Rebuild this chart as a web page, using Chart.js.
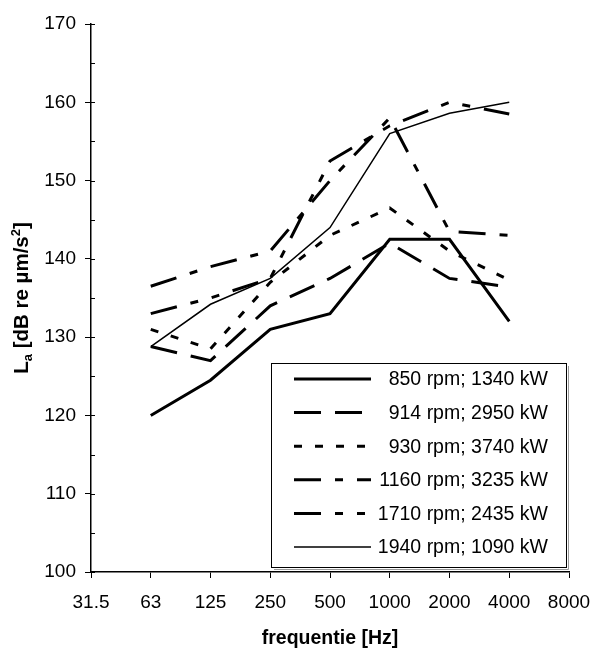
<!DOCTYPE html>
<html>
<head>
<meta charset="utf-8">
<script src="https://cdn.jsdelivr.net/npm/chart.js@4.4.1/dist/chart.umd.min.js"></script>
<style>
    html, body { margin: 0; padding: 0; background: #fff; }
    #wrap { width: 591px; height: 650px; }
</style>
</head>
<body>
<div id="wrap"><canvas id="spectrumChart" width="591" height="650"></canvas></div>
<script>
// octave band centres shown on the x axis
const freqLabels = ['31.5', '63', '125', '250', '500', '1000', '2000', '4000', '8000'];

// measured levels for 63 .. 4000 Hz (dB re um/s2)
const rpm850 = [120, 124.5, 131, 133, 142.5, 142.5, 132];
const rpm914 = [128.8, 127, 134, 137.5, 142, 137.5, 136.4];
const rpm930 = [131, 128.5, 137, 143, 146.5, 141, 137.3];
const rpm1160 = [136.5, 139, 141, 150, 158, 143.5, 143];
const rpm1710 = [133, 135, 137.5, 152.5, 157, 160, 158.5];
const rpm1940 = [128.8, 134.2, 137.5, 144, 156, 158.6, 160];

const seriesNames = [
    '850 rpm; 1340 kW',
    '914 rpm; 2950 kW',
    '930 rpm; 3740 kW',
    '1160 rpm; 3235 kW',
    '1710 rpm; 2435 kW',
    '1940 rpm; 1090 kW'
];

const FONT = "'Liberation Sans', Arial, sans-serif";

// pad with null so 31.5 and 8000 stay empty
function padded(values) {
    return [null, ...values, null];
}

function lineSet(label, values, width, dash) {
    return {
        label: label,
        data: padded(values),
        borderColor: '#000',
        backgroundColor: '#000',
        borderWidth: width,
        borderDash: dash,
        borderCapStyle: 'butt',
        borderJoinStyle: 'miter',
        tension: 0,
        pointRadius: 0,
        fill: false
    };
}

// y axis title with sub/superscript
const yTitlePlugin = {
    id: 'yTitle',
    afterDraw(chart) {
        const ctx = chart.ctx;
        const area = chart.chartArea;
        const parts = [
            { t: 'L', size: 20.5, dy: 0 },
            { t: 'a', size: 13, dy: 4 },
            { t: ' [dB re \u00b5m/s', size: 20.5, dy: 0 },
            { t: '2', size: 13, dy: -8 },
            { t: ']', size: 20.5, dy: 0 }
        ];
        ctx.save();
        let total = 0;
        parts.forEach(p => {
            ctx.font = 'bold ' + p.size + 'px ' + FONT;
            p.w = ctx.measureText(p.t).width;
            total += p.w;
        });
        ctx.translate(28, (area.top + area.bottom) / 2);
        ctx.rotate(-Math.PI / 2);
        ctx.fillStyle = '#000';
        ctx.textBaseline = 'alphabetic';
        ctx.textAlign = 'left';
        let x = -total / 2;
        parts.forEach(p => {
            ctx.font = 'bold ' + p.size + 'px ' + FONT;
            ctx.fillText(p.t, x, p.dy);
            x += p.w;
        });
        ctx.restore();
    }
};

// small inward ticks every 5 dB
const innerTicksPlugin = {
    id: 'innerTicks',
    afterDraw(chart) {
        const ctx = chart.ctx;
        const y = chart.scales.y;
        ctx.save();
        ctx.strokeStyle = '#000';
        ctx.lineWidth = 1;
        y.ticks.forEach(t => {
            const py = Math.round(y.getPixelForValue(t.value)) + 0.5;
            ctx.beginPath();
            ctx.moveTo(y.right, py);
            ctx.lineTo(y.right + 4, py);
            ctx.stroke();
        });
        ctx.restore();
    }
};

// boxed legend inside the plot, bottom right
const boxLegendPlugin = {
    id: 'boxLegend',
    afterDraw(chart) {
        const ctx = chart.ctx;
        const area = chart.chartArea;
        const right = area.right - 3;
        const bottom = area.bottom - 5;
        const width = 295;
        const height = 204;
        const left = right - width;
        const top = bottom - height;
        ctx.save();
        ctx.fillStyle = '#fff';
        ctx.fillRect(left, top, width, height);
        // faint drop shadow
        ctx.strokeStyle = '#999';
        ctx.lineWidth = 1;
        ctx.beginPath();
        ctx.moveTo(right + 2.5, top + 3);
        ctx.lineTo(right + 2.5, bottom + 2.5);
        ctx.lineTo(left + 3, bottom + 2.5);
        ctx.stroke();
        ctx.strokeStyle = '#000';
        ctx.strokeRect(left + 0.5, top + 0.5, width, height);
        ctx.font = '19.5px ' + FONT;
        ctx.textAlign = 'right';
        ctx.textBaseline = 'middle';
        chart.data.datasets.forEach((ds, i) => {
            const ry = top + 16 + i * 33.6;
            ctx.strokeStyle = '#000';
            ctx.lineWidth = ds.borderWidth;
            ctx.lineCap = 'butt';
            ctx.setLineDash(ds.borderDash || []);
            ctx.beginPath();
            ctx.moveTo(left + 23, ry);
            ctx.lineTo(left + 100, ry);
            ctx.stroke();
            ctx.setLineDash([]);
            ctx.fillStyle = '#000';
            ctx.fillText(ds.label, right - 18, ry + 1);
        });
        ctx.restore();
    }
};

const spectrumCtx = document.getElementById('spectrumChart').getContext('2d');

new Chart(spectrumCtx, {
    type: 'line',
    data: {
        labels: freqLabels,
        datasets: [
            lineSet(seriesNames[0], rpm850, 3, []),
            lineSet(seriesNames[1], rpm914, 3, [27, 14]),
            lineSet(seriesNames[2], rpm930, 3, [8, 13]),
            lineSet(seriesNames[3], rpm1160, 3, [27, 14, 8, 14]),
            lineSet(seriesNames[4], rpm1710, 3, [27, 14, 8, 14, 8, 14]),
            lineSet(seriesNames[5], rpm1940, 1.5, [])
        ]
    },
    options: {
        responsive: false,
        animation: false,
        devicePixelRatio: 1,
        layout: {
            padding: { top: 24, right: 22, bottom: 0, left: 0 }
        },
        plugins: {
            legend: { display: false },
            tooltip: { enabled: false }
        },
        scales: {
            x: {
                type: 'category',
                offset: false,
                grid: {
                    drawOnChartArea: false,
                    drawTicks: true,
                    tickLength: 6,
                    color: '#000'
                },
                border: { color: '#000', width: 1.5 },
                ticks: {
                    color: '#000',
                    font: { family: FONT, size: 19 },
                    padding: 13,
                    maxRotation: 0,
                    autoSkip: false
                },
                title: {
                    display: true,
                    text: 'frequentie [Hz]',
                    color: '#000',
                    font: { family: FONT, size: 19.5, weight: 'bold' },
                    padding: { top: 13, bottom: 0 }
                },
                afterFit: function(scale) {
                    scale.height = 78;
                    scale.paddingLeft = 0;
                    scale.paddingRight = 0;
                }
            },
            y: {
                min: 100,
                max: 170,
                grid: {
                    drawOnChartArea: false,
                    drawTicks: true,
                    tickLength: 6,
                    tickColor: function(context) {
                        return context.tick && context.tick.value % 10 === 0 ? '#000' : 'rgba(0,0,0,0)';
                    }
                },
                border: { color: '#000', width: 1.5 },
                ticks: {
                    stepSize: 5,
                    color: '#000',
                    font: { family: FONT, size: 19 },
                    padding: 9,
                    callback: function(value) {
                        return value % 10 === 0 ? value : '';
                    }
                },
                afterFit: function(scale) {
                    scale.width = 91;
                    scale.paddingTop = 0;
                    scale.paddingBottom = 0;
                }
            }
        }
    },
    plugins: [yTitlePlugin, innerTicksPlugin, boxLegendPlugin]
});
</script>
</body>
</html>
